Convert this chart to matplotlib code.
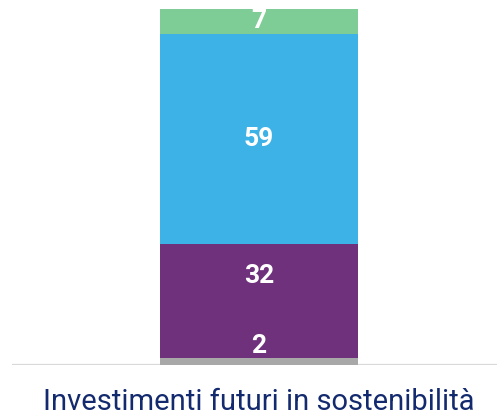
import matplotlib
matplotlib.use('Agg')
import matplotlib.pyplot as plt

# dati
categories = ['Investimenti futuri in sostenibilità']
segments = ['Altro', 'Gruppo B', 'Gruppo A', 'Gruppo C']
values = [2, 32, 59, 7]
label_pos = [5.3, 25, None, None]  # posizioni delle etichette spostate (None = centro)
colors = ['#a8a8a8', '#6f317b', '#3cb2e6', '#7fcd96']

plt.rcParams['font.family'] = ['Roboto', 'DejaVu Sans']

fig = plt.figure(figsize=(4.97, 4.15), dpi=100)
W, H = 497, 415
ax = fig.add_axes([12 / W, (H - 365) / H, 485 / W, 356 / H])

bottom = 0
for seg, v, lp, c in zip(segments, values, label_pos, colors):
    ax.bar(0, v, bottom=bottom, width=1.0, color=c, edgecolor='none', zorder=2)
    y = lp if lp is not None else bottom + v / 2
    ax.text(0, y, str(v), ha='center', va='center', color='white',
            fontsize=19, fontweight='bold', zorder=3)
    bottom += v

ax.axhline(0, color='#d9d9d9', linewidth=1.6, zorder=1)
ax.set_xlim(-1.247, 1.202)
ax.set_ylim(0, 100)
ax.axis('off')

fig.text((259) / W, (H - 402) / H, categories[0], ha='center', va='center',
         color='#132a6e', fontsize=21)

fig.savefig('out.png', dpi=100)
